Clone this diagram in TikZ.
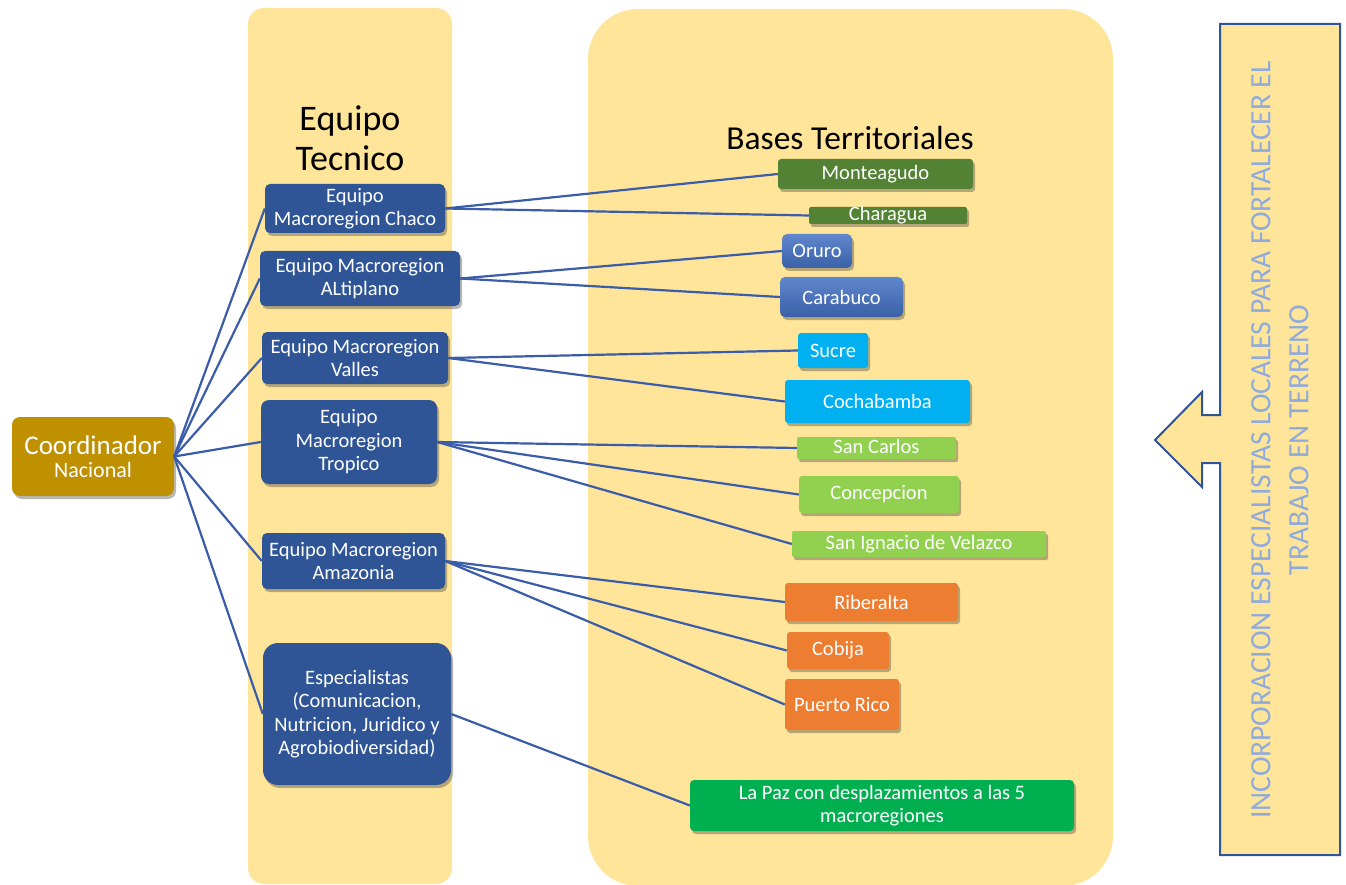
\documentclass[tikz,border=0pt]{standalone}
\usepackage{fontspec}
\setmainfont{Carlito}
\usetikzlibrary{shadows}
\definecolor{panel}{HTML}{FFE599}
\definecolor{navy}{HTML}{2F5597}
\definecolor{gold}{HTML}{BF9000}
\definecolor{dgreen}{HTML}{548235}
\definecolor{mblue}{HTML}{4472C4}
\definecolor{cyanb}{HTML}{00B0F0}
\definecolor{lgreen}{HTML}{92D050}
\definecolor{orangeb}{HTML}{ED7D31}
\definecolor{greenb}{HTML}{00B050}
\definecolor{linec}{HTML}{3A5CA9}
\definecolor{arrtext}{HTML}{8FAADC}
\tikzset{
  bx/.style={rounded corners=5pt, inner sep=0pt, align=center, text=white,
    font=\fontsize{20.5}{23.5}\selectfont,
    drop shadow={shadow xshift=2pt, shadow yshift=-3pt, opacity=0.35, fill=black!80}},
  navybox/.style={bx, fill=navy},
  conn/.style={draw=linec, line width=2.2pt},
}
\begin{document}
\begin{tikzpicture}[x=1pt,y=-1pt]
\useasboundingbox (0,0) rectangle (1346,885);
% panels
\fill[panel, rounded corners=16pt] (248,8) rectangle (452,884);
\fill[panel, rounded corners=50pt] (588,9) rectangle (1113,886);
% callout arrow
\draw[fill=panel, draw=navy, line width=2pt, line join=miter]
  (1220,24) -- (1340,24) -- (1340,855) -- (1220,855) -- (1220,463) -- (1202,463)
  -- (1202,487) -- (1155,440) -- (1202,392) -- (1202,415) -- (1220,415) -- cycle;
\node[rotate=90, align=center, text=arrtext, font=\fontsize{29.5}{38}\selectfont] (arrtxt) at (1280,440)
  {INCORPORACION ESPECIALISTAS LOCALES PARA FORTALECER EL\\TRABAJO EN TERRENO};
% headings
\node[align=center, font=\fontsize{36}{40}\selectfont] (h1) at (350,138) {Equipo\\Tecnico};
\node[anchor=base, font=\fontsize{33.5}{38}\selectfont] (h2) at (850,150) {Bases Territoriales};
% coordinator
\node[bx, fill=gold, rounded corners=8pt, minimum width=162pt, minimum height=79pt] (coord) at (93,456.5)
  {{\fontsize{27}{25}\selectfont Coordinador}\\{\fontsize{22}{25}\selectfont Nacional}};
% left column
\node[navybox, minimum width=180pt, minimum height=49pt] (chaco) at (355,208.5) {Equipo\\Macroregion Chaco};
\node[navybox, minimum width=200pt, minimum height=55pt] (alti) at (360,278.5) {Equipo Macroregion\\ALtiplano};
\node[navybox, minimum width=186pt, minimum height=52pt] (valles) at (355,358) {Equipo Macroregion\\Valles};
\node[navybox, rounded corners=8pt, minimum width=176pt, minimum height=84pt] (trop) at (349,442) {Equipo\\Macroregion\\Tropico};
\node[navybox, minimum width=183pt, minimum height=56pt] (amaz) at (353.5,561) {Equipo Macroregion\\Amazonia};
\node[navybox, rounded corners=15pt, minimum width=188pt, minimum height=142pt] (esp) at (357,714)
  {Especialistas\\(Comunicacion,\\Nutricion, Juridico y\\Agrobiodiversidad)};
% right column
\node[bx, fill=dgreen, rounded corners=3pt, minimum width=195pt, minimum height=30pt] (mont) at (875.5,174) {Monteagudo};
\node[bx, fill=dgreen, rounded corners=2pt, minimum width=158pt, minimum height=17pt, text height=13pt, text depth=2pt] (chara) at (888,215.5) {Charagua};
\node[bx, top color=mblue!85!white, bottom color=mblue!85!black, minimum width=70pt, minimum height=34pt] (oruro) at (817,251) {Oruro};
\node[bx, top color=mblue!85!white, bottom color=mblue!85!black, minimum width=123pt, minimum height=40pt] (carab) at (841.5,297) {Carabuco};
\node[bx, fill=cyanb, rounded corners=3pt, minimum width=70pt, minimum height=35pt] (sucre) at (833,350.5) {Sucre};
\node[bx, fill=cyanb, rounded corners=3pt, minimum width=185pt, minimum height=43pt] (cocha) at (877.5,401.5) {Cochabamba};
\node[bx, fill=lgreen, rounded corners=2pt, minimum width=159pt, minimum height=22pt, text height=14pt, text depth=3pt] (scarlos) at (876.5,448) {San Carlos};
\node[bx, fill=lgreen, rounded corners=3pt, minimum width=160pt, minimum height=37pt] (concep) at (879,494.5) {Concepcion};
\node[bx, fill=lgreen, rounded corners=2pt, minimum width=254pt, minimum height=26pt, text height=14pt, text depth=4pt] (signacio) at (919,544) {San Ignacio de Velazco};
\node[bx, fill=orangeb, rounded corners=3pt, minimum width=173pt, minimum height=38pt] (riber) at (871.5,602) {Riberalta};
\node[bx, fill=orangeb, rounded corners=3pt, minimum width=102pt, minimum height=37pt] (cobija) at (838,650.5) {Cobija};
\node[bx, fill=orangeb, rounded corners=3pt, minimum width=114pt, minimum height=51pt] (puerto) at (842,704.5) {Puerto Rico};
\node[bx, fill=greenb, rounded corners=4pt, minimum width=384pt, minimum height=51pt] (lapaz) at (882,805.5) {La Paz con desplazamientos a las 5\\macroregiones};
% connectors
\foreach \t in {chaco,alti,valles,trop,amaz,esp}
  \draw[conn] (coord.east) -- (\t.west);
\draw[conn] (chaco.east) -- (mont.west);
\draw[conn] (chaco.east) -- (chara.west);
\draw[conn] (alti.east) -- (oruro.west);
\draw[conn] (alti.east) -- (carab.west);
\draw[conn] (valles.east) -- (sucre.west);
\draw[conn] (valles.east) -- (cocha.west);
\draw[conn] (trop.east) -- (scarlos.west);
\draw[conn] (trop.east) -- (concep.west);
\draw[conn] (trop.east) -- (signacio.west);
\draw[conn] (amaz.east) -- (riber.west);
\draw[conn] (amaz.east) -- (cobija.west);
\draw[conn] (amaz.east) -- (puerto.west);
\draw[conn] (esp.east) -- (lapaz.west);
\end{tikzpicture}
\end{document}
